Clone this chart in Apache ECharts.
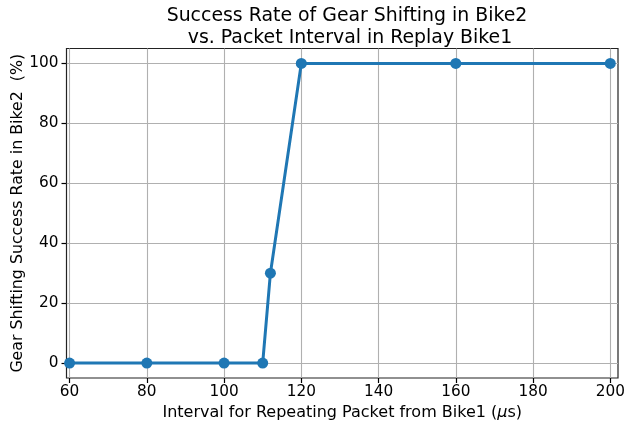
<!DOCTYPE html>
<html>
<head>
<meta charset="utf-8">
<script src="https://cdn.jsdelivr.net/npm/echarts@6/dist/echarts.min.js"></script>
<style>html,body{margin:0;padding:0;background:#fff;}#c{width:624px;height:421px;}</style>
</head>
<body>
<div id="c"></div>
<script>
const intervals = [60, 80, 100, 110, 112, 120, 160, 200];
const successRates = [0, 0, 0, 0, 30, 100, 100, 100];
const xTicks = [60, 80, 100, 120, 140, 160, 180, 200];
const yTicks = [0, 20, 40, 60, 80, 100];
const titleText = 'Success Rate of Gear Shifting in Bike2\n vs. Packet Interval in Replay Bike1';
const yLabel = 'Gear Shifting Success Rate in Bike2  (%)';

const font = 'DejaVu Sans';
const chart = echarts.init(document.getElementById('c'), null, {renderer: 'canvas'});
chart.setOption({
  animation: false,
  backgroundColor: '#fff',
  title: {
    text: titleText,
    left: 342, top: 0, textAlign: 'center',
    textStyle: {fontFamily: font, fontSize: 18.9, fontWeight: 'normal', color: '#000', lineHeight: 22}
  },
  grid: {left: 66.5, right: 6, top: 48.5, bottom: 43, outerBoundsMode: 'none', containLabel: false, show: true, borderColor: '#222', borderWidth: 1.2, backgroundColor: 'transparent'},
  xAxis: {
    type: 'value', min: 59.2, max: 202,
    name: '{a|Interval for Repeating Packet from Bike1 (}{i|μ}{a|s)}',
    nameLocation: 'middle', nameGap: 26.5, nameMoveOverlap: false,
    nameTextStyle: {
      verticalAlign: 'top',
      rich: {a: {fontFamily: font, fontSize: 16, color: '#000'}, i: {fontFamily: font, fontSize: 16, fontStyle: 'italic', color: '#000'}}
    },
    axisLine: {show: false, onZero: false},
    axisTick: {show: true, inside: false, length: 5, customValues: xTicks, lineStyle: {color: '#000', width: 1.2}},
    axisLabel: {customValues: xTicks, fontFamily: font, fontSize: 15.3, color: '#000', margin: 7},
    splitLine: {show: true, lineStyle: {color: '#b0b0b0', width: 1.1}}
  },
  yAxis: {
    type: 'value', min: -5, max: 105,
    name: yLabel, nameLocation: 'middle', nameGap: 41, nameRotate: 90, nameMoveOverlap: false,
    nameTextStyle: {fontFamily: font, fontSize: 15.8, color: '#000'},
    axisLine: {show: false, onZero: false},
    axisTick: {show: true, inside: false, length: 5, customValues: yTicks, lineStyle: {color: '#000', width: 1.2}},
    axisLabel: {customValues: yTicks, fontFamily: font, fontSize: 15.3, color: '#000', margin: 8},
    splitLine: {show: true, lineStyle: {color: '#b0b0b0', width: 1.1}}
  },
  series: [{
    type: 'line',
    data: intervals.map((x, i) => [x, successRates[i]]),
    symbol: 'circle', symbolSize: 11,
    lineStyle: {color: '#1f77b4', width: 3},
    itemStyle: {color: '#1f77b4'},
    z: 5
  }]
});
</script>
</body>
</html>
